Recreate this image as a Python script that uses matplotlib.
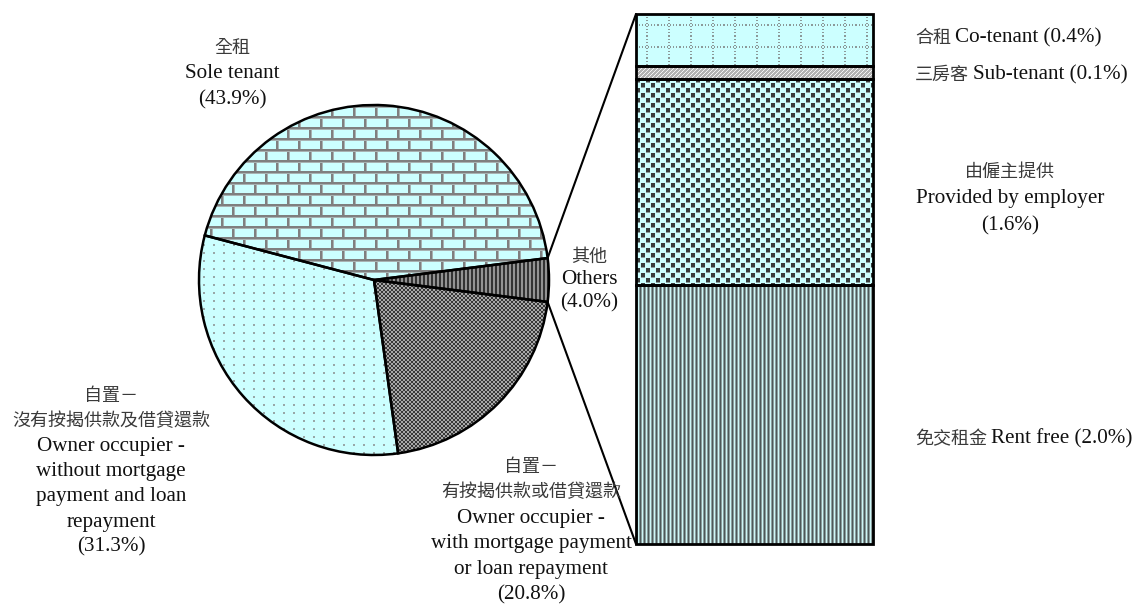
import numpy as np
import matplotlib
matplotlib.use("Agg")
import matplotlib.pyplot as plt
from matplotlib.patches import ConnectionPatch

# main pie: share of households by tenure (%)
pie_values = [43.9, 31.3, 20.8, 4.0]
pie_zh = ["全租", "自置－\n沒有按揭供款及借貸還款", "自置－\n有按揭供款或借貸還款", "其他"]
pie_en = ["Sole tenant",
          "Owner occupier -\nwithout mortgage\npayment and loan\nrepayment",
          "Owner occupier -\nwith mortgage payment\nor loan repayment",
          "Others"]

# breakdown of "Others", bottom to top
other_values = [2.0, 1.6, 0.1, 0.4]
other_zh = ["免交租金", "由僱主提供", "三房客", "合租"]
other_en = ["Rent free", "Provided by employer", "Sub-tenant", "Co-tenant"]

W, H = 1134, 604
EN = "Liberation Serif"
ZH = "Noto Sans CJK TC"
EN_SIZE = 15.2
ZH_SIZE = 13
TXT = "#111111"
ZTXT = "#3a3a3a"

CYAN = np.array([0.8, 1.0, 1.0])
GRAY = np.array([0.5, 0.5, 0.5])
LIGHT = np.array([0.66, 0.7, 0.7])


def tile_brick():
    t = np.tile(CYAN, (22, 22, 1))
    t[0:2, :] = GRAY
    t[2, :] = LIGHT
    t[11:13, :] = GRAY
    t[13, :] = LIGHT
    t[3:11, 0:2] = GRAY
    t[3:11, 2] = LIGHT
    t[14:22, 11:13] = GRAY
    t[14:22, 13] = LIGHT
    return t


def tile_dots():
    t = np.tile(CYAN, (8, 10, 1))
    t[3:5, 4:6] = [0.6, 0.66, 0.66]
    return t


def tile_checker():
    t = np.tile(np.array([0.66, 0.66, 0.66]), (4, 4, 1))
    t[0:2, 0:2] = [0.22, 0.22, 0.22]
    t[2:4, 2:4] = [0.22, 0.22, 0.22]
    return t


def tile_dark_stripes():
    t = np.tile(np.array([0.2, 0.2, 0.2]), (4, 4, 1))
    t[:, 2:4] = [0.58, 0.58, 0.58]
    return t


def tile_grid_dots():
    t = np.tile(CYAN, (22, 22, 1))
    t[10:12, ::3] = [0.55, 0.6, 0.6]
    t[::3, 10:12] = [0.55, 0.6, 0.6]
    return t


def tile_diag():
    t = np.tile(np.array([0.7, 0.7, 0.7]), (4, 4, 1))
    for i in range(4):
        t[i, 3 - i] = [0.95, 0.95, 0.95]
    return t


def tile_confetti():
    t = np.tile(CYAN, (10, 10, 1))
    t[0:4, 0:4] = [0.22, 0.24, 0.24]
    t[5:9, 5:9] = [0.22, 0.24, 0.24]
    t[4, 0:4] = [0.55, 0.62, 0.62]
    t[9, 5:9] = [0.55, 0.62, 0.62]
    return t


def tile_teal_stripes():
    t = np.tile(np.array([0.3, 0.35, 0.35]), (4, 4, 1))
    t[:, 1] = [0.55, 0.62, 0.62]
    t[:, 2] = [0.8, 0.97, 0.97]
    t[:, 3] = [0.55, 0.62, 0.62]
    return t


def pattern_fill(ax, patch, tile, extent, npx_w, npx_h):
    reps_y = npx_h // tile.shape[0] + 1
    reps_x = npx_w // tile.shape[1] + 1
    img = np.tile(tile, (reps_y, reps_x, 1))[:npx_h, :npx_w]
    im = ax.imshow(img, extent=extent, interpolation="nearest",
                   aspect="auto", origin="upper", zorder=1)
    im.set_clip_path(patch)


fig = plt.figure(figsize=(W / 100, H / 100), dpi=100)

# pie axes
cx, cy, r = 374, 280, 175
m = 1.05
ax_pie = fig.add_axes([(cx - r * m) / W, (H - cy - r * m) / H,
                       2 * r * m / W, 2 * r * m / H])
wedges, _ = ax_pie.pie(pie_values, startangle=7.2, counterclock=True, radius=1,
                       wedgeprops=dict(facecolor="none", edgecolor="black",
                                       linewidth=1.8, zorder=3))
pie_tiles = [tile_brick(), tile_dots(), tile_checker(), tile_dark_stripes()]
for w, t in zip(wedges, pie_tiles):
    pattern_fill(ax_pie, w, t, (-1, 1, -1, 1), 2 * r, 2 * r)
ax_pie.set_xlim(-m, m)
ax_pie.set_ylim(-m, m)
ax_pie.set_aspect("auto")
ax_pie.axis("off")

# stacked bar of "Others"
bx0, bx1, by0, by1 = 636, 873, 14, 544
total = sum(other_values)
ax_bar = fig.add_axes([bx0 / W, (H - by1) / H, (bx1 - bx0) / W, (by1 - by0) / H])
bar_tiles = [tile_teal_stripes(), tile_confetti(), tile_diag(), tile_grid_dots()]
bottom = 0.0
for v, t in zip(other_values, bar_tiles):
    bars = ax_bar.bar(0.5, v, width=1.0, bottom=bottom, facecolor="none",
                      edgecolor="black", linewidth=2, zorder=3, clip_on=False)
    npx_h = max(1, int(round(v / total * (by1 - by0))))
    pattern_fill(ax_bar, bars[0], t, (0, 1, bottom, bottom + v), bx1 - bx0, npx_h)
    bottom += v
ax_bar.set_xlim(0, 1)
ax_bar.set_ylim(0, total)
ax_bar.axis("off")

# connector lines from the "Others" wedge to the bar
half = np.deg2rad(360 * pie_values[-1] / 100 / 2)
for sgn, ytop in [(1, total), (-1, 0)]:
    con = ConnectionPatch(xyA=(np.cos(half), sgn * np.sin(half)), coordsA=ax_pie.transData,
                          xyB=(0, ytop), coordsB=ax_bar.transData,
                          color="black", linewidth=1.5)
    fig.add_artist(con)


def put(x, y, s, zh=False, ha="center"):
    fig.text(x / W, 1 - y / H, s, ha=ha, va="center",
             family=[ZH, EN] if zh else [EN, ZH],
             fontsize=ZH_SIZE if zh else EN_SIZE,
             color=ZTXT if zh else TXT)


def put_block(x, y, lines, step=25.5):
    for i, (s, zh) in enumerate(lines):
        put(x, y + i * step, s, zh)


def block(i, pct):
    zh = [(s, True) for s in pie_zh[i].split("\n")]
    en = [(s, False) for s in pie_en[i].split("\n")]
    return zh + en + [("(%.1f%%)" % pct, False)]


put_block(232, 48, block(0, pie_values[0]), step=26)
put_block(111, 396, block(1, pie_values[1]), step=25.2)
put_block(531, 467, block(2, pie_values[2]), step=25.6)
put_block(589, 257, block(3, pie_values[3]), step=23)


def put_inline(x, y, zh, en):
    t = fig.text(x / W, 1 - y / H, zh, ha="left", va="center",
                 family=[ZH, EN], fontsize=ZH_SIZE, color=ZTXT)
    fig.canvas.draw()
    bb = t.get_window_extent()
    fig.text((bb.x1 + 4) / W, 1 - y / H, en, ha="left", va="center",
             family=[EN, ZH], fontsize=EN_SIZE, color=TXT)


lx = 915
put_inline(lx, 38, other_zh[3], "%s (%.1f%%)" % (other_en[3], other_values[3]))
put_inline(lx, 75, other_zh[2], "%s (%.1f%%)" % (other_en[2], other_values[2]))
put_block(1010, 172, [(other_zh[1], True), (other_en[1], False),
                      ("(%.1f%%)" % other_values[1], False)], step=27)
put_inline(lx, 439, other_zh[0], "%s (%.1f%%)" % (other_en[0], other_values[0]))

fig.savefig("out.png", dpi=100, facecolor="white")
